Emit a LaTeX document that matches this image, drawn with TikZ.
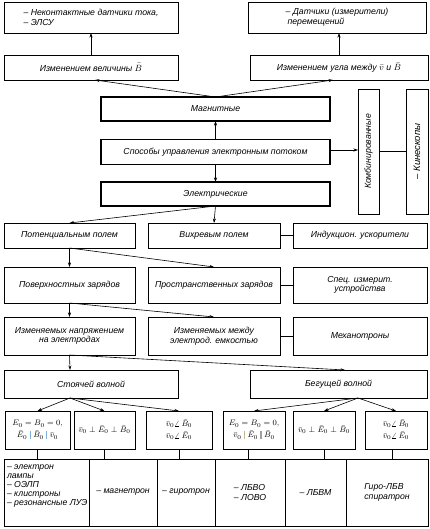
\documentclass[tikz,border=0pt]{standalone}
\usepackage{fontspec}
\setmainfont{Liberation Sans}
\usetikzlibrary{arrows.meta}
\definecolor{barblue}{RGB}{125,175,225}
\definecolor{barkhaki}{RGB}{195,185,145}
\definecolor{bargray}{RGB}{160,160,160}
\newcommand{\pbar}[1]{\mathrel{\textcolor{#1}{\rule[-1.5pt]{1.3pt}{8.5pt}}}}
\begin{document}
\begin{tikzpicture}[x=1pt,y=-1pt,
  every node/.style={font=\fontsize{8.7}{9.6}\selectfont\itshape, inner sep=0pt, outer sep=0pt},
  bx/.style={draw, line width=0.6pt, rectangle},
  tbx/.style={draw, line width=1.5pt, rectangle},
  arr/.style={line width=0.6pt, -{Stealth[length=4.5pt,width=3pt]}},
  ln/.style={line width=0.6pt},
  cond/.style={bx, minimum height=38pt, align=center, font=\fontsize{8}{9}\selectfont},
]
\useasboundingbox (0,0) rectangle (429,529);

% top
\node[bx, minimum width=174pt, minimum height=31pt, align=left] (t1) at (91,17.5) {– Неконтактные датчики тока,\\– ЭЛСУ};
\node[bx, minimum width=178pt, minimum height=31pt, align=left] (t2) at (337,17.5) {– Датчики (измерители)\\\hspace{2pt}перемещений};
\node[bx, minimum width=174pt, minimum height=25pt] (m1) at (91,67.5) {Изменением величины $\bar B$};
\node[bx, minimum width=178pt, minimum height=25pt] (m2) at (339,67.5) {Изменением угла между $\bar v$ и $\bar B$};

% main column
\node[tbx, minimum width=229pt, minimum height=24pt] (mag) at (215.5,109) {Магнитные};
\node[tbx, minimum width=229pt, minimum height=25pt] (spo) at (215.5,152) {Способы управления электронным потоком};
\node[tbx, minimum width=229pt, minimum height=24pt] (ele) at (215.5,194) {Электрические};

\node[bx, rotate=90, minimum width=125pt, minimum height=21pt] (kom) at (368.5,151.5) {Комбинированные};
\node[bx, rotate=90, minimum width=125pt, minimum height=22pt, font=\fontsize{9.5}{11}\selectfont\itshape] (kin) at (417,151.5) {– Кинескопы};

% row A
\node[bx, minimum width=131pt, minimum height=25pt] (pot) at (69.5,235.5) {Потенциальным полем};
\node[bx, minimum width=132pt, minimum height=25pt] (vix) at (214,235.5) {Вихревым полем};
\node[bx, minimum width=134pt, minimum height=25pt] (ind) at (360,235.5) {Индукцион. ускорители};

% row B
\node[bx, minimum width=131pt, minimum height=36pt] (pov) at (69.5,285) {Поверхностных зарядов};
\node[bx, minimum width=132pt, minimum height=36pt] (pro) at (214,285) {Пространственных зарядов};
\node[bx, minimum width=134pt, minimum height=36pt, align=center] (spe) at (360,285) {Спец. измерит.\\устройства};

% row C
\node[bx, minimum width=131pt, minimum height=38pt, align=center] (nap) at (69.5,336) {Изменяемых напряжением\\на электродах};
\node[bx, minimum width=132pt, minimum height=38pt, align=center] (emk) at (214,336) {Изменяемых между\\электрод. емкостью};
\node[bx, minimum width=134pt, minimum height=38pt] (mex) at (360,336) {Механотроны};

% row D
\node[bx, minimum width=174pt, minimum height=28pt] (sto) at (91,384) {Стоячей волной};
\node[bx, minimum width=177pt, minimum height=28pt] (beg) at (338.5,384) {Бегущей волной};

% row E conditions
\node[cond, minimum width=65pt] (c1) at (37.5,430) {$E_0=B_0=0,$\\[3pt]$\bar E_0\pbar{barblue}\bar B_0\pbar{barblue}\bar v_0$};
\node[cond, minimum width=61pt] (c2) at (104.5,430) {$\bar v_0\perp\bar E_0\perp\bar B_0$};
\node[cond, minimum width=66pt] (c3) at (179,430) {$\bar v_0\angle\,\bar B_0$\\[3pt]$\bar v_0\angle\,\bar E_0$};
\node[cond, minimum width=62pt] (c4) at (254,430) {$E_0=B_0=0,$\\[3pt]$\bar v_0\pbar{barkhaki}\bar E_0\pbar{bargray}\bar B_0$};
\node[cond, minimum width=62pt] (c5) at (324,430) {$\bar v_0\perp\bar E_0\perp\bar B_0$};
\node[cond, minimum width=62pt] (c6) at (396,430) {$\bar v_0\angle\,\bar B_0$\\[3pt]$\bar v_0\angle\,\bar E_0$};

% table
\node[bx, minimum width=85pt, minimum height=67pt] (tc1) at (46.5,492.5) {};
\node[anchor=north west, align=left, font=\fontsize{8.7}{9}\selectfont\itshape] (tx1) at ([xshift=3pt,yshift=-6pt]tc1.north west) {– электрон\\лампы\\– ОЭЛП\\– клистроны\\– резонансные ЛУЭ};
\node[bx, minimum width=68pt, minimum height=67pt] (tc2) at (123,492.5) {– магнетрон};
\node[bx, minimum width=58pt, minimum height=67pt] (tc3) at (186,492.5) {– гиротрон};
\node[bx, minimum width=70pt, minimum height=67pt, align=left] (tc4) at (250,492.5) {– ЛБВО\\– ЛОВО};
\node[bx, minimum width=61pt, minimum height=67pt] (tc5) at (315.5,492.5) {– ЛБВМ};
\node[bx, minimum width=82pt, minimum height=67pt, align=left] (tc6) at (387,492.5) {Гиро-ЛБВ\\спиратрон};

% connectors top
\draw[arr] (m1.north) -- (t1.south -| m1.north);
\draw[arr] (m2.north) -- (t2.south -| m2.north);
\draw[arr] (mag.north) -- ([xshift=4pt]m1.south);
\draw[arr] (mag.north) -- ([xshift=-6pt]m2.south);
\draw[arr] (spo.north) -- (mag.south);
\draw[arr] (spo.south) -- (ele.north);
\draw[arr] ([yshift=2pt]spo.east) -- ([yshift=2pt]spo.east -| kom.north);
\draw[ln] (kom.south) -- (kin.north);

% connectors middle
\draw[arr] (ele.south) -- (pot.north);
\draw[arr] (ele.south) -- (vix.north);
\draw[ln] (vix.east) -- (ind.west);
\draw[arr] (pot.south) -- (pov.north);
\draw[arr] (pot.south) -- (pro.north);
\draw[ln] (pro.east) -- (spe.west);
\draw[arr] (pov.south) -- (nap.north);
\draw[arr] (pov.south) -- (emk.north);
\draw[ln] (emk.east) -- (mex.west);
\draw[arr] (nap.south) -- ([xshift=-21pt]sto.north);
\draw[arr] (nap.south) -- ([xshift=6.5pt]beg.north);

% connectors bottom
\draw[arr] ([xshift=-21pt]sto.south) -- (c1.north);
\draw[arr] ([xshift=-21pt]sto.south) -- (c2.north);
\draw[arr] ([xshift=-21pt]sto.south) -- (c3.north);
\draw[arr] ([xshift=19.5pt]beg.south) -- (c4.north);
\draw[arr] ([xshift=19.5pt]beg.south) -- (c5.north);
\draw[arr] ([xshift=19.5pt]beg.south) -- (c6.north);
\draw[ln] (c1.south) -- (c1.south |- tc1.north);
\draw[ln] (c2.south) -- (c2.south |- tc2.north);
\draw[ln] (c3.south) -- (c3.south |- tc3.north);
\draw[ln] ([xshift=-6pt]c4.south) -- ([xshift=-6pt]c4.south |- tc4.north);
\draw[ln] (c5.south) -- (c5.south |- tc5.north);
\draw[ln] ([xshift=-4pt]c6.south) -- ([xshift=-4pt]c6.south |- tc6.north);
\end{tikzpicture}
\end{document}
